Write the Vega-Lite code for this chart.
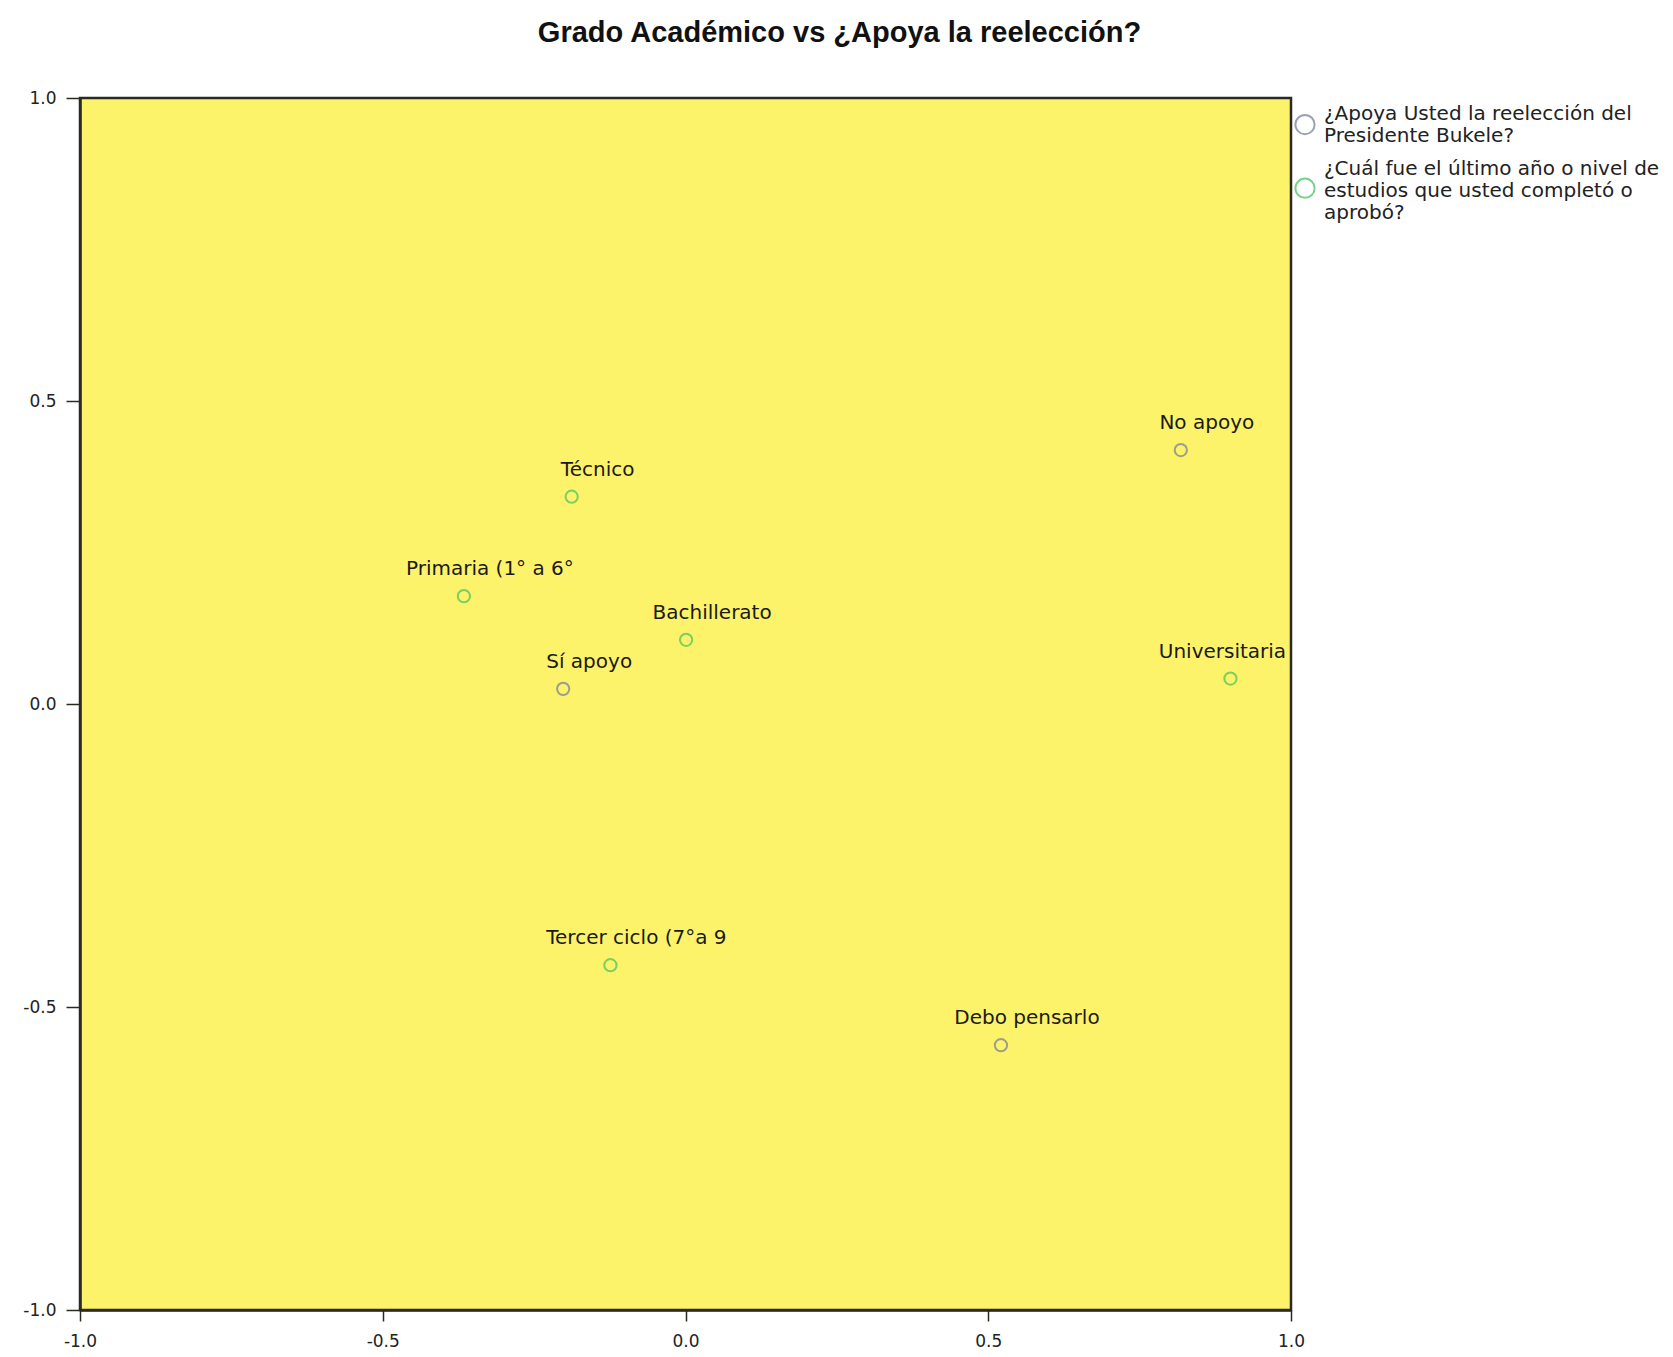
{
  "$schema": "https://vega.github.io/schema/vega-lite/v6.json",
  "autosize": "none",
  "width": 1211,
  "height": 1212,
  "padding": {"left": 80, "top": 98, "right": 382, "bottom": 47},
  "background": "white",
  "title": {
    "text": "Grado Académico vs ¿Apoya la reelección?",
    "font": "Liberation Sans",
    "fontSize": 29,
    "fontWeight": "bold",
    "color": "#111111",
    "anchor": "middle",
    "dx": 154,
    "offset": 41
  },
  "config": {
    "view": {"fill": "#FCF36B", "stroke": "#2a2a22", "strokeWidth": 2.5},
    "axis": {
      "grid": false,
      "domainColor": "#2a2a22",
      "domainWidth": 2.5,
      "tickColor": "#2a2a22",
      "tickWidth": 1.5,
      "labelFont": "DejaVu Sans",
      "labelFontSize": 17,
      "labelColor": "#222222",
      "labelFlush": false,
      "labelOverlap": false,
      "title": null
    }
  },
  "data": {
    "values": [
      {"categoria": "Técnico", "dim1": -0.188, "dim2": 0.342, "variable": "¿Cuál fue el último año o nivel de estudios que usted completó o aprobó?"},
      {"categoria": "Primaria (1° a 6°", "dim1": -0.366, "dim2": 0.178, "variable": "¿Cuál fue el último año o nivel de estudios que usted completó o aprobó?"},
      {"categoria": "Bachillerato", "dim1": 0.001, "dim2": 0.106, "variable": "¿Cuál fue el último año o nivel de estudios que usted completó o aprobó?"},
      {"categoria": "Universitaria", "dim1": 0.9, "dim2": 0.042, "variable": "¿Cuál fue el último año o nivel de estudios que usted completó o aprobó?"},
      {"categoria": "Tercer ciclo (7°a 9", "dim1": -0.124, "dim2": -0.431, "variable": "¿Cuál fue el último año o nivel de estudios que usted completó o aprobó?"},
      {"categoria": "Sí apoyo", "dim1": -0.202, "dim2": 0.025, "variable": "¿Apoya Usted la reelección del Presidente Bukele?"},
      {"categoria": "No apoyo", "dim1": 0.818, "dim2": 0.419, "variable": "¿Apoya Usted la reelección del Presidente Bukele?"},
      {"categoria": "Debo pensarlo", "dim1": 0.521, "dim2": -0.563, "variable": "¿Apoya Usted la reelección del Presidente Bukele?"}
    ]
  },
  "encoding": {
    "x": {
      "field": "dim1", "type": "quantitative",
      "scale": {"domain": [-1, 1], "nice": false, "zero": false},
      "axis": {"values": [-1, -0.5, 0, 0.5, 1], "labelExpr": "datum.value < 0 ? '-' + format(-datum.value, '.1f') : format(datum.value, '.1f')", "tickSize": 11, "labelPadding": 12}
    },
    "y": {
      "field": "dim2", "type": "quantitative",
      "scale": {"domain": [-1, 1], "nice": false, "zero": false},
      "axis": {"values": [-1, -0.5, 0, 0.5, 1], "labelExpr": "datum.value < 0 ? '-' + format(-datum.value, '.1f') : format(datum.value, '.1f')", "tickSize": 14, "labelPadding": 10}
    }
  },
  "layer": [
    {
      "mark": {"type": "point", "shape": "circle", "filled": false, "size": 150, "strokeWidth": 2},
      "encoding": {
        "color": {
          "field": "variable", "type": "nominal",
          "scale": {
            "domain": ["¿Apoya Usted la reelección del Presidente Bukele?", "¿Cuál fue el último año o nivel de estudios que usted completó o aprobó?"],
            "range": ["#747a98", "#44c05a"]
          }
        }
      }
    },
    {
      "transform": [{"filter": "false"}],
      "mark": {"type": "point", "filled": false, "strokeWidth": 2},
      "encoding": {
        "color": {
          "field": "variable", "type": "nominal",
          "scale": {
            "domain": ["¿Apoya Usted la reelección del Presidente Bukele?", "¿Cuál fue el último año o nivel de estudios que usted completó o aprobó?"],
            "range": ["#747a98", "#44c05a"]
          },
          "legend": {
            "title": null,
            "orient": "none",
            "legendX": 1214,
            "legendY": 5,
            "padding": 0,
            "symbolSize": 369,
            "symbolStrokeWidth": 2,
            "labelFont": "DejaVu Sans",
            "labelFontSize": 20,
            "labelColor": "#222222",
            "labelOffset": 8,
            "labelLimit": 500,
            "rowPadding": 12,
            "labelExpr": "datum.label == '¿Apoya Usted la reelección del Presidente Bukele?' ? ['¿Apoya Usted la reelección del', 'Presidente Bukele?'] : ['¿Cuál fue el último año o nivel de', 'estudios que usted completó o', 'aprobó?']"
          }
        },
        "shape": {
          "field": "variable", "type": "nominal",
          "scale": {
            "domain": ["¿Apoya Usted la reelección del Presidente Bukele?", "¿Cuál fue el último año o nivel de estudios que usted completó o aprobó?"],
            "range": ["M -1,1.1 A 1,1 0 1,0 1,1.1 A 1,1 0 1,0 -1,1.1 Z", "M -1,2.0 A 1,1 0 1,0 1,2.0 A 1,1 0 1,0 -1,2.0 Z"]
          },
          "legend": {
            "title": null,
            "orient": "none",
            "legendX": 1214,
            "legendY": 5,
            "padding": 0,
            "symbolSize": 369,
            "symbolStrokeWidth": 2,
            "labelFont": "DejaVu Sans",
            "labelFontSize": 20,
            "labelColor": "#222222",
            "labelOffset": 8,
            "labelLimit": 500,
            "rowPadding": 12,
            "labelExpr": "datum.label == '¿Apoya Usted la reelección del Presidente Bukele?' ? ['¿Apoya Usted la reelección del', 'Presidente Bukele?'] : ['¿Cuál fue el último año o nivel de', 'estudios que usted completó o', 'aprobó?']"
          }
        }
      }
    },
    {
      "transform": [{"filter": "datum.categoria != 'Universitaria'"}],
      "mark": {"type": "text", "font": "DejaVu Sans", "fontSize": 20, "color": "#1a1a1a", "align": "center", "baseline": "middle", "dx": 26, "dy": -27},
      "encoding": {"text": {"field": "categoria"}}
    },
    {
      "transform": [{"filter": "datum.categoria == 'Universitaria'"}],
      "mark": {"type": "text", "font": "DejaVu Sans", "fontSize": 20, "color": "#1a1a1a", "align": "center", "baseline": "middle", "dx": -8, "dy": -27},
      "encoding": {"text": {"field": "categoria"}}
    }
  ]
}
